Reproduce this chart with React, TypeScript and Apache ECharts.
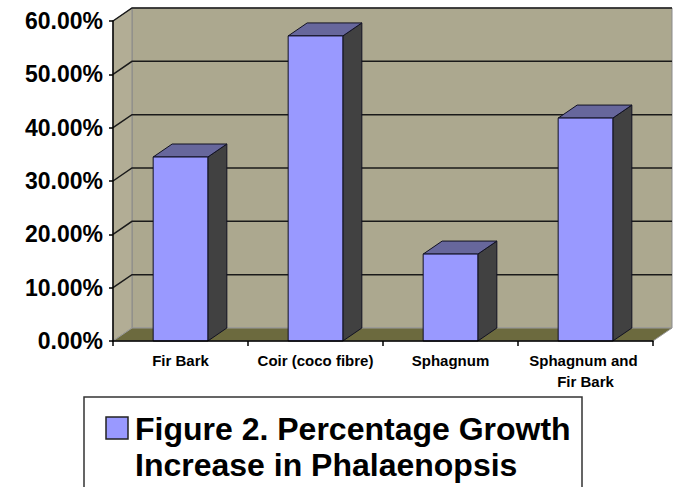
import React, { useEffect, useRef } from "react";
import * as echarts from "echarts";

const categories = ["Fir Bark", "Coir (coco fibre)", "Sphagnum", "Sphagnum and Fir Bark"];
const growthValues = [0.345, 0.572, 0.163, 0.418];
const yTicks = [0, 0.1, 0.2, 0.3, 0.4, 0.5, 0.6];
const legendLines = ["Figure 2. Percentage Growth", "Increase in Phalaenopsis"];
const seriesName = legendLines.join(" ");

const DX = 19;
const DY = -13;
const FONT = "'Liberation Sans', Arial, sans-serif";

export default function App() {
  const ref = useRef<HTMLDivElement>(null);
  useEffect(() => {
    if (!ref.current) return;
    const chart = echarts.init(ref.current, null, { renderer: "svg" });
    const yMin = yTicks[0];
    const yMax = yTicks[yTicks.length - 1];

    const wallsRender = (params: any, api: any) => {
      const cs = params.coordSys;
      const L = cs.x;
      const R = cs.x + cs.width;
      const T = api.coord([0, yMax])[1];
      const B = api.coord([0, yMin])[1];
      const children: any[] = [
        {
          type: "polygon",
          shape: { points: [[L + DX, T + DY], [R + DX, T + DY], [R + DX, B + DY], [L + DX, B + DY]] },
          style: { fill: "#aca88f", stroke: "#8a8a8a", lineWidth: 1 },
        },
        {
          type: "polygon",
          shape: { points: [[L, T], [L + DX, T + DY], [L + DX, B + DY], [L, B]] },
          style: { fill: "#b2ad95", stroke: "#8a8a8a", lineWidth: 1 },
        },
        {
          type: "polygon",
          shape: { points: [[L, B], [R, B], [R + DX, B + DY], [L + DX, B + DY]] },
          style: { fill: "#6c6a3e", stroke: "#9a9a9a", lineWidth: 1 },
        },
      ];
      yTicks.forEach((t) => {
        if (t === yMin) return;
        const y = api.coord([0, t])[1];
        children.push({
          type: "polyline",
          shape: { points: [[L, y], [L + DX, y + DY], [R + DX, y + DY]] },
          style: { stroke: "#1a1a1a", lineWidth: 1.5, fill: null },
        });
      });
      return { type: "group", children };
    };

    const barsRender = (params: any, api: any) => {
      const idx = api.value(0);
      const val = api.value(1);
      const [cx, top] = api.coord([idx, val]);
      const bottom = api.coord([idx, yMin])[1];
      const w = api.size([1, 0])[0] * 0.405;
      const x0 = cx - w / 2;
      const x1 = cx + w / 2;
      return {
        type: "group",
        children: [
          {
            type: "polygon",
            shape: { points: [[x1, top], [x1 + DX, top + DY], [x1 + DX, bottom + DY], [x1, bottom]] },
            style: { fill: "#414141", stroke: "#111122", lineWidth: 1 },
          },
          {
            type: "polygon",
            shape: { points: [[x0, top], [x1, top], [x1 + DX, top + DY], [x0 + DX, top + DY]] },
            style: { fill: "#67679c", stroke: "#111122", lineWidth: 1 },
          },
          {
            type: "rect",
            shape: { x: x0, y: top, width: w, height: bottom - top },
            style: { fill: "#9999ff", stroke: "#111122", lineWidth: 1 },
          },
        ],
      };
    };

    chart.setOption({
      animation: false,
      backgroundColor: "#ffffff",
      grid: { left: 113, right: 25, top: 21, bottom: 146, containLabel: false },
      xAxis: {
        type: "category",
        data: categories,
        axisLine: { show: true, lineStyle: { color: "#000", width: 1.5 } },
        axisTick: { show: true, length: 5, lineStyle: { color: "#000", width: 1.5 } },
        axisLabel: {
          color: "#000",
          fontFamily: FONT,
          fontWeight: "bold",
          fontSize: 15,
          lineHeight: 21,
          margin: 9,
          width: 122,
          overflow: "break",
          interval: 0,
        },
        splitLine: { show: false },
        z: 5,
      },
      yAxis: {
        type: "value",
        min: yMin,
        max: yMax,
        interval: 0.1,
        axisLine: { show: true, lineStyle: { color: "#000", width: 1.5 } },
        axisTick: { show: true, length: 4, lineStyle: { color: "#000", width: 1.5 } },
        axisLabel: {
          color: "#000",
          fontFamily: FONT,
          fontWeight: "bold",
          fontSize: 23,
          margin: 10,
          formatter: (v: number) => (v * 100).toFixed(2) + "%",
        },
        splitLine: { show: false },
        z: 5,
      },
      series: [
        {
          type: "custom",
          name: "walls",
          renderItem: wallsRender,
          data: [[0, 0]],
          clip: false,
          silent: true,
          z: 1,
        },
        {
          type: "custom",
          name: seriesName,
          renderItem: barsRender,
          data: categories.map((_, i) => [i, growthValues[i]]),
          encode: { x: 0, y: 1 },
          clip: false,
          z: 3,
        },
      ],
      graphic: [
        {
          type: "rect",
          shape: { x: 84, y: 397, width: 498, height: 120 },
          style: { fill: "#ffffff", stroke: "#333333", lineWidth: 1.5 },
          z: 10,
        },
        {
          type: "rect",
          shape: { x: 106, y: 417, width: 22, height: 22 },
          style: { fill: "#9999ff", stroke: "#222222", lineWidth: 1.5 },
          z: 11,
        },
        {
          type: "text",
          x: 135,
          y: 411,
          style: {
            text: legendLines.join("\n"),
            font: `bold 32px ${FONT}`,
            lineHeight: 36,
            fill: "#000",
            verticalAlign: "top",
            align: "left",
          },
          z: 11,
        },
      ],
    });
    return () => chart.dispose();
  }, []);
  return (
    <div
      ref={ref}
      style={{ position: "fixed", left: 0, top: 0, width: 678, height: 487 }}
    />
  );
}
